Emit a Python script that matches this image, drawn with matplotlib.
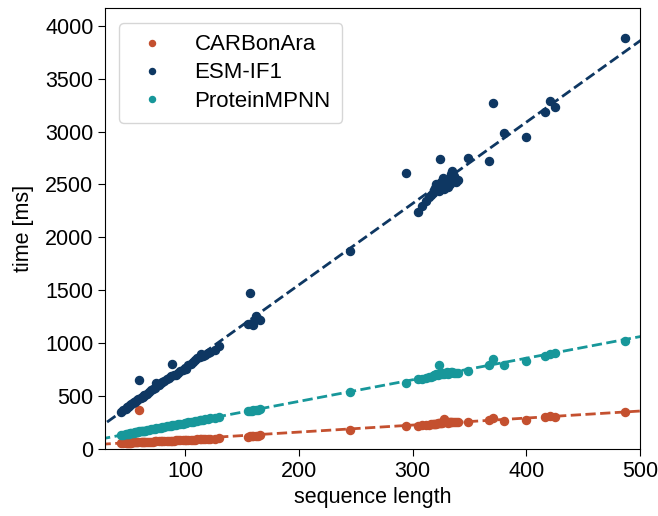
import numpy as np
import matplotlib
matplotlib.use("Agg")
import matplotlib.pyplot as plt

plt.rcParams['font.family'] = ['Liberation Sans', 'DejaVu Sans']

seq_len = [44, 46, 48, 49, 50, 51, 52, 53, 54, 55, 56, 57, 58, 59, 60, 61, 62, 63, 64, 65,
           67, 68, 70, 72, 74, 75, 77, 79, 80, 82, 84, 86, 88, 89, 90, 92, 94, 96, 98, 100,
           101, 103, 105, 107, 109, 111, 113, 114, 116, 118, 120, 122, 126, 130,
           155, 157, 159, 160, 162, 164, 166,
           245, 294, 305, 308, 312, 314, 316, 318, 319, 320, 321, 322, 323, 324, 325, 326,
           327, 328, 329, 330, 331, 332, 333, 334, 335, 336, 338, 340,
           349, 367, 371, 380, 400, 416, 421, 425, 487]

esm_time = [350, 365, 380, 395, 400, 405, 415, 420, 430, 440, 445, 450, 460, 470, 650, 480, 490, 495, 505, 510,
            520, 540, 555, 565, 580, 625, 600, 620, 630, 640, 660, 675, 690, 800, 700, 700, 720, 740, 750, 765,
            760, 790, 800, 820, 840, 855, 870, 895, 880, 885, 910, 920, 935, 970,
            1185, 1475, 1190, 1170, 1255, 1230, 1215,
            1875, 2610, 2240, 2300, 2340, 2380, 2400, 2420, 2450, 2470, 2500, 2480, 2440, 2740, 2520, 2490,
            2560, 2460, 2510, 2530, 2480, 2550, 2500, 2600, 2630, 2580, 2520, 2540,
            2750, 2720, 3270, 2990, 2950, 3180, 3290, 3230, 3880]

mpnn_time = [130, 135, 138, 140, 142, 145, 147, 150, 152, 153, 156, 158, 160, 162, 165, 166, 168, 170, 172, 173,
             178, 180, 184, 188, 192, 194, 198, 202, 205, 208, 212, 216, 220, 222, 224, 228, 232, 236, 240, 244,
             246, 250, 254, 258, 262, 266, 270, 272, 276, 280, 284, 288, 296, 305,
             355, 360, 362, 365, 368, 372, 375,
             535, 626, 657, 665, 672, 678, 680, 690, 695, 700, 705, 698, 792, 710, 715, 705,
             720, 712, 718, 725, 708, 722, 715, 730, 726, 720, 718, 722,
             739, 792, 846, 790, 835, 880, 900, 905, 1020]

carb_time = [55, 56, 57, 58, 58, 59, 60, 60, 61, 62, 62, 63, 63, 64, 365, 65, 65, 66, 66, 67,
             68, 68, 69, 70, 71, 72, 73, 74, 74, 75, 76, 77, 78, 79, 79, 80, 81, 82, 83, 84,
             85, 86, 87, 88, 89, 90, 91, 92, 93, 94, 95, 96, 98, 100,
             115, 118, 120, 121, 124, 126, 128,
             180, 217, 220, 225, 228, 230, 232, 235, 236, 238, 240, 242, 245, 246, 248, 244,
             250, 280, 252, 255, 248, 256, 250, 258, 254, 252, 250, 256,
             258, 275, 290, 268, 275, 300, 315, 305, 350]

labels = ['CARBonAra', 'ESM-IF1', 'ProteinMPNN']
colors = ['#C4502F', '#0E3762', '#17979A']
series = [carb_time, esm_time, mpnn_time]

fig = plt.figure(figsize=(6.58, 5.16), dpi=100)
ax = fig.add_axes([0.16, 0.13, 0.813, 0.855])

x = np.array(seq_len, dtype=float)
xx = np.linspace(0, 520, 200)
for lab, col, t in zip(labels, colors, series):
    ax.plot(x, t, 'o', color=col, ms=5.8, label=lab, zorder=3)
    k, b = np.polyfit(x, np.array(t, dtype=float), 1)
    ax.plot(xx, k * xx + b, '--', color=col, lw=2, zorder=2)

ax.set_xlim(30, 500)
ax.set_ylim(0, 4170)
ax.set_xticks([100, 200, 300, 400, 500])
ax.set_yticks(range(0, 4001, 500))
ax.tick_params(labelsize=15.5, length=5)
ax.set_xlabel('sequence length', fontsize=15.5)
ax.set_ylabel('time [ms]', fontsize=15.5, labelpad=8)
ax.legend(loc='upper left', fontsize=16, handletextpad=0.9, borderpad=0.5,
          labelspacing=0.32, handlelength=2.0, markerscale=0.75,
          bbox_to_anchor=(0.005, 0.99))

fig.savefig('out.png', dpi=100)
